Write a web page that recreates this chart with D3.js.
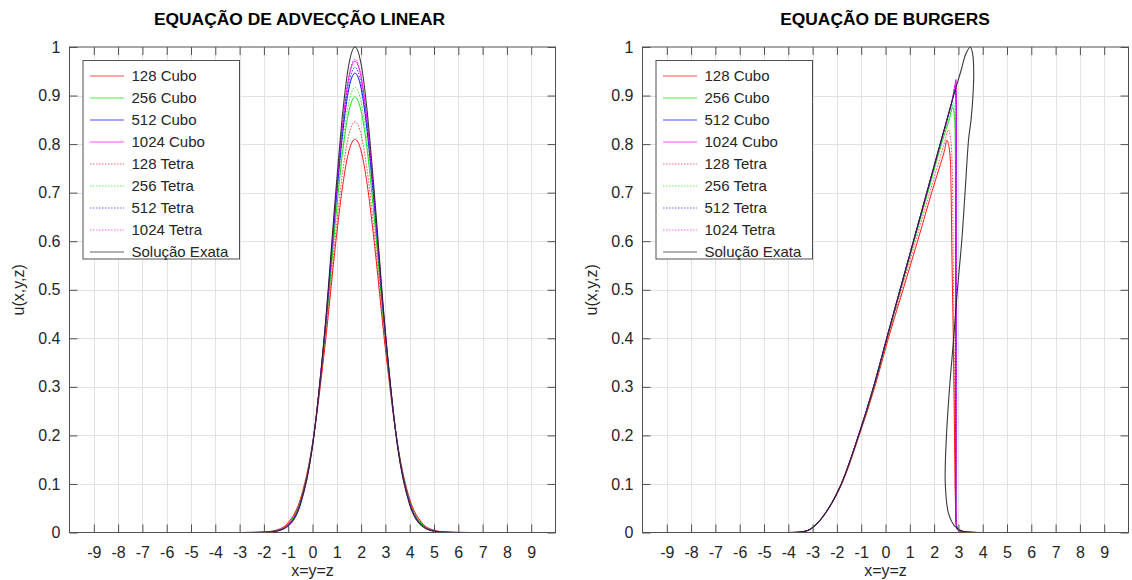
<!DOCTYPE html>
<html>
<head>
<meta charset="utf-8">
<script src="https://cdn.jsdelivr.net/npm/d3@7"></script>
<style>
body { margin: 0; background: #fff; }
svg { display: block; font-family: "Liberation Sans", Arial, sans-serif; }
</style>
</head>
<body>
<svg id="plotarea" width="1132" height="580"></svg>
<script>
// eixos
var xTickVals = [-9, -8, -7, -6, -5, -4, -3, -2, -1, 0, 1, 2, 3, 4, 5, 6, 7, 8, 9];
var xTickLabels = ["-9", "-8", "-7", "-6", "-5", "-4", "-3", "-2", "-1", "0", "1", "2", "3", "4", "5", "6", "7", "8", "9"];
var yTickVals = [0, 0.1, 0.2, 0.3, 0.4, 0.5, 0.6, 0.7, 0.8, 0.9, 1];
var yTickLabels = ["0", "0.1", "0.2", "0.3", "0.4", "0.5", "0.6", "0.7", "0.8", "0.9", "1"];
var legendLabels = ["128 Cubo", "256 Cubo", "512 Cubo", "1024 Cubo", "128 Tetra", "256 Tetra", "512 Tetra", "1024 Tetra", "Solução Exata"];

// advecção linear
var advX = [-10, -3, -2.5, -2, -1.5, -1, -0.5, 0, 0.5, 1, 1.25, 1.5, 1.75, 2, 2.25, 2.5, 3, 3.5, 4, 4.5, 5, 5.5, 6, 6.5, 10];
var adv128Cubo = [0, 0, 0.0001, 0.0009, 0.0047, 0.0203, 0.0685, 0.182, 0.378, 0.616, 0.717, 0.786, 0.81, 0.786, 0.717, 0.616, 0.378, 0.182, 0.0685, 0.0203, 0.0047, 0.0009, 0.0001, 0, 0];
var adv256Cubo = [0, 0, 0.0001, 0.0006, 0.0037, 0.0175, 0.0642, 0.182, 0.397, 0.669, 0.788, 0.868, 0.897, 0.868, 0.788, 0.669, 0.397, 0.182, 0.0642, 0.0175, 0.0037, 0.0006, 0.0001, 0, 0];
var adv512Cubo = [0, 0, 0.0001, 0.0005, 0.0031, 0.0158, 0.061, 0.18, 0.406, 0.698, 0.826, 0.915, 0.946, 0.915, 0.826, 0.698, 0.406, 0.18, 0.061, 0.0158, 0.0031, 0.0005, 0.0001, 0, 0];
var adv1024Cubo = [0, 0, 0.0001, 0.0004, 0.0028, 0.0149, 0.0592, 0.179, 0.41, 0.712, 0.846, 0.938, 0.971, 0.938, 0.846, 0.712, 0.41, 0.179, 0.0592, 0.0149, 0.0028, 0.0004, 0.0001, 0, 0];
var adv128Tetra = [0, 0, 0.0001, 0.0007, 0.0043, 0.0191, 0.067, 0.182, 0.387, 0.638, 0.746, 0.82, 0.846, 0.82, 0.746, 0.638, 0.387, 0.182, 0.067, 0.0191, 0.0043, 0.0007, 0.0001, 0, 0];
var adv256Tetra = [0, 0, 0.0001, 0.0005, 0.0034, 0.0168, 0.0631, 0.181, 0.402, 0.681, 0.803, 0.887, 0.917, 0.887, 0.803, 0.681, 0.402, 0.181, 0.0631, 0.0168, 0.0034, 0.0005, 0.0001, 0, 0];
var adv512Tetra = [0, 0, 0.0001, 0.0004, 0.003, 0.0153, 0.0603, 0.18, 0.408, 0.704, 0.835, 0.925, 0.958, 0.925, 0.835, 0.704, 0.408, 0.18, 0.0603, 0.0153, 0.003, 0.0004, 0.0001, 0, 0];
var adv1024Tetra = [0, 0, 0.0001, 0.0004, 0.0028, 0.0147, 0.0589, 0.179, 0.41, 0.714, 0.849, 0.942, 0.975, 0.942, 0.849, 0.714, 0.41, 0.179, 0.0589, 0.0147, 0.0028, 0.0004, 0.0001, 0, 0];
var advExata = [0, 0, 0, 0.0004, 0.0025, 0.0138, 0.057, 0.177, 0.413, 0.727, 0.868, 0.965, 1, 0.965, 0.868, 0.727, 0.413, 0.177, 0.057, 0.0138, 0.0025, 0.0004, 0, 0, 0];

// burgers: pares [x, u]
var bur128Cubo = [[-10, 0], [-4, 0], [-3.5, 0.001], [-3.16, 0.005], [-2.79, 0.02], [-2.33, 0.05], [-1.8, 0.1], [-1.08, 0.2], [-0.44, 0.3], [0.12, 0.4], [0.72, 0.5], [1.32, 0.6], [1.9, 0.7], [2.42, 0.785], [2.53, 0.808], [2.61, 0.795], [2.67, 0.765], [2.7, 0.7], [2.74, 0.55], [2.79, 0.4], [2.84, 0.2], [2.88, 0.06], [2.92, 0.015], [3.0, 0.005], [3.3, 0.001], [4, 0], [10, 0]];
var bur256Cubo = [[-10, 0], [-4, 0], [-3.5, 0.001], [-3.16, 0.005], [-2.79, 0.02], [-2.34, 0.05], [-1.82, 0.1], [-1.1, 0.2], [-0.47, 0.3], [0.07, 0.4], [0.62, 0.5], [1.18, 0.6], [1.74, 0.7], [2.3, 0.8], [2.65, 0.855], [2.76, 0.876], [2.83, 0.86], [2.87, 0.8], [2.88, 0.6], [2.88, 0.3], [2.89, 0.08], [2.9, 0.02], [2.96, 0.006], [3.2, 0.002], [3.8, 0], [10, 0]];
var bur512Cubo = [[-10, 0], [-4, 0], [-3.5, 0.001], [-3.16, 0.005], [-2.79, 0.02], [-2.34, 0.05], [-1.82, 0.1], [-1.11, 0.2], [-0.49, 0.3], [0.05, 0.4], [0.6, 0.5], [1.15, 0.6], [1.7, 0.7], [2.25, 0.8], [2.7, 0.88], [2.87, 0.911], [2.9, 0.89], [2.9, 0.7], [2.9, 0.4], [2.9, 0.1], [2.91, 0.02], [2.96, 0.006], [3.2, 0.002], [3.8, 0], [10, 0]];
var bur1024Cubo = [[-10, 0], [-4, 0], [-3.5, 0.001], [-3.16, 0.005], [-2.79, 0.02], [-2.34, 0.05], [-1.82, 0.1], [-1.11, 0.2], [-0.49, 0.3], [0.05, 0.4], [0.6, 0.5], [1.15, 0.6], [1.7, 0.7], [2.25, 0.8], [2.72, 0.885], [2.86, 0.922], [2.9, 0.933], [2.91, 0.91], [2.91, 0.7], [2.91, 0.4], [2.91, 0.1], [2.92, 0.02], [2.97, 0.006], [3.2, 0.002], [3.8, 0], [10, 0]];
var bur128Tetra = [[-10, 0], [-4, 0], [-3.5, 0.001], [-3.16, 0.005], [-2.79, 0.02], [-2.33, 0.05], [-1.81, 0.1], [-1.09, 0.2], [-0.46, 0.3], [0.08, 0.4], [0.66, 0.5], [1.24, 0.6], [1.82, 0.7], [2.38, 0.795], [2.59, 0.829], [2.68, 0.81], [2.74, 0.76], [2.78, 0.6], [2.82, 0.4], [2.86, 0.2], [2.89, 0.05], [2.93, 0.012], [3.0, 0.004], [3.3, 0.001], [4, 0], [10, 0]];
var bur256Tetra = [[-10, 0], [-4, 0], [-3.5, 0.001], [-3.16, 0.005], [-2.79, 0.02], [-2.34, 0.05], [-1.82, 0.1], [-1.1, 0.2], [-0.48, 0.3], [0.06, 0.4], [0.61, 0.5], [1.17, 0.6], [1.72, 0.7], [2.28, 0.8], [2.7, 0.87], [2.8, 0.885], [2.86, 0.86], [2.885, 0.7], [2.89, 0.4], [2.9, 0.1], [2.91, 0.02], [2.97, 0.006], [3.2, 0.002], [3.8, 0], [10, 0]];
var bur512Tetra = [[-10, 0], [-4, 0], [-3.5, 0.001], [-3.16, 0.005], [-2.79, 0.02], [-2.34, 0.05], [-1.82, 0.1], [-1.11, 0.2], [-0.49, 0.3], [0.05, 0.4], [0.6, 0.5], [1.15, 0.6], [1.7, 0.7], [2.25, 0.8], [2.72, 0.885], [2.88, 0.922], [2.905, 0.9], [2.905, 0.6], [2.905, 0.2], [2.915, 0.02], [2.97, 0.006], [3.2, 0.002], [3.8, 0], [10, 0]];
var bur1024Tetra = [[-10, 0], [-4, 0], [-3.5, 0.001], [-3.16, 0.005], [-2.79, 0.02], [-2.34, 0.05], [-1.82, 0.1], [-1.11, 0.2], [-0.49, 0.3], [0.05, 0.4], [0.6, 0.5], [1.15, 0.6], [1.7, 0.7], [2.25, 0.8], [2.73, 0.887], [2.88, 0.925], [2.905, 0.928], [2.915, 0.9], [2.915, 0.6], [2.915, 0.2], [2.92, 0.02], [2.97, 0.006], [3.2, 0.002], [3.8, 0], [10, 0]];
var burExata = [[-10, 0], [-4, 0], [-3.5, 0.001], [-3.16, 0.005], [-2.79, 0.02], [-2.34, 0.05], [-1.82, 0.1], [-1.11, 0.2], [-0.49, 0.3], [0.05, 0.4], [0.6, 0.5], [1.15, 0.6], [1.7, 0.7], [2.25, 0.8], [2.8, 0.9], [3.1, 0.95], [3.3, 0.985], [3.49, 1.0], [3.59, 0.985], [3.63, 0.95], [3.6, 0.9], [3.52, 0.85], [3.42, 0.81], [3.28, 0.705], [3.14, 0.602], [2.96, 0.5], [2.8, 0.397], [2.63, 0.294], [2.5, 0.191], [2.46, 0.101], [2.59, 0.04], [2.87, 0.012], [3.21, 0.002], [3.6, 0], [10, 0]];

var lineColors = ["#ff0000", "#00dd00", "#0000ff", "#ff00ff", "#ff0000", "#00dd00", "#0000ff", "#ff00ff", "#222222"];
var lineDash = [null, null, null, null, "1.5,1.5", "1.5,1.5", "1.5,1.5", "1.5,1.5", null];

function pairs(xs, ys) {
    return xs.map(function(v, i) { return [v, ys[i]]; });
}

var advSeries = [adv128Cubo, adv256Cubo, adv512Cubo, adv1024Cubo, adv128Tetra, adv256Tetra, adv512Tetra, adv1024Tetra, advExata]
    .map(function(s) { return pairs(advX, s); });
var burSeries = [bur128Cubo, bur256Cubo, bur512Cubo, bur1024Cubo, bur128Tetra, bur256Tetra, bur512Tetra, bur1024Tetra, burExata];

var svg = d3.select("#plotarea");
var axisColor = "#505050";
var textColor = "#262626";

function drawPanel(id, left, title, titleX, series, curve) {
    var width = 486;
    var x = d3.scaleLinear().domain([-10, 10]).range([left, left + width]);
    var y = d3.scaleLinear().domain([0, 1]).range([532.5, 47]);
    var g = svg.append("g");

    // grade
    g.append("g").selectAll("line").data(xTickVals).enter().append("line")
        .attr("x1", function(d) { return Math.round(x(d)) + 0.5; })
        .attr("x2", function(d) { return Math.round(x(d)) + 0.5; })
        .attr("y1", y(0)).attr("y2", y(1))
        .attr("stroke", "#e2e2e2");
    g.append("g").selectAll("line").data(yTickVals.slice(1, -1)).enter().append("line")
        .attr("x1", x(-10)).attr("x2", x(10))
        .attr("y1", function(d) { return Math.round(y(d)) + 0.5; })
        .attr("y2", function(d) { return Math.round(y(d)) + 0.5; })
        .attr("stroke", "#e2e2e2");

    // curvas
    g.append("clipPath").attr("id", "clip" + id)
        .append("rect").attr("x", x(-10)).attr("y", y(1) - 1).attr("width", width).attr("height", y(0) - y(1) + 1);
    var line = d3.line()
        .x(function(d) { return x(d[0]); })
        .y(function(d) { return y(d[1]); })
        .curve(curve);
    g.append("g").attr("clip-path", "url(#clip" + id + ")")
        .selectAll("path").data(series).enter().append("path")
        .attr("d", line)
        .attr("fill", "none")
        .attr("stroke", function(d, i) { return lineColors[i]; })
        .attr("stroke-width", function(d, i) { return i == 8 ? 1.1 : 1; })
        .attr("stroke-dasharray", function(d, i) { return lineDash[i]; })
        .attr("opacity", function(d, i) { return lineDash[i] ? 0.75 : 0.9; });

    // eixos
    var bottom = g.append("g").attr("transform", "translate(0," + y(0) + ")")
        .call(d3.axisBottom(x).tickValues(xTickVals).tickSizeInner(-8).tickSizeOuter(0).tickPadding(14)
            .tickFormat(function(d, i) { return xTickLabels[i]; }));
    var top = g.append("g").attr("transform", "translate(0," + y(1) + ")")
        .call(d3.axisTop(x).tickValues(xTickVals).tickSizeInner(-8).tickSizeOuter(0).tickFormat(""));
    var leftAx = g.append("g").attr("transform", "translate(" + x(-10) + ",0)")
        .call(d3.axisLeft(y).tickValues(yTickVals).tickSizeInner(-8).tickSizeOuter(0).tickPadding(9)
            .tickFormat(function(d, i) { return yTickLabels[i]; }));
    var rightAx = g.append("g").attr("transform", "translate(" + x(10) + ",0)")
        .call(d3.axisRight(y).tickValues(yTickVals).tickSizeInner(-8).tickSizeOuter(0).tickFormat(""));
    [bottom, top, leftAx, rightAx].forEach(function(a) {
        a.select(".domain").remove();
        a.selectAll(".tick line").attr("stroke", axisColor);
        a.selectAll("text").attr("fill", textColor).attr("font-size", 16)
            .attr("font-family", "'Liberation Sans', Arial, sans-serif");
    });
    g.append("rect")
        .attr("x", x(-10)).attr("y", y(1)).attr("width", width).attr("height", y(0) - y(1))
        .attr("fill", "none").attr("stroke", axisColor);

    // legenda
    var lg = g.append("g").attr("transform", "translate(" + (left + 13.5) + ",60.5)");
    lg.append("rect").attr("width", 156.5).attr("height", 198.5)
        .attr("fill", "#fff").attr("stroke", axisColor);
    var item = lg.selectAll(".item").data(legendLabels).enter().append("g")
        .attr("class", "item")
        .attr("transform", function(d, i) { return "translate(0," + (15.5 + 22 * i) + ")"; });
    item.append("line").attr("x1", 7).attr("x2", 41)
        .attr("stroke", function(d, i) { return lineColors[i]; })
        .attr("stroke-dasharray", function(d, i) { return lineDash[i]; })
        .attr("opacity", function(d, i) { return lineDash[i] ? 0.6 : 0.7; });
    item.append("text").attr("x", 48.5).attr("dy", "0.35em")
        .attr("font-size", 15).attr("fill", textColor)
        .text(function(d) { return d; });

    // títulos
    g.append("text").attr("x", titleX).attr("y", 25)
        .attr("text-anchor", "middle").attr("font-size", 17.4).attr("font-weight", "bold")
        .attr("fill", "#000").text(title);
    g.append("text").attr("x", left + width / 2).attr("y", 576)
        .attr("text-anchor", "middle").attr("font-size", 16).attr("fill", textColor)
        .text("x=y=z");
    g.append("text").attr("transform", "translate(" + (left - 46) + "," + ((y(0) + y(1)) / 2) + ") rotate(-90)")
        .attr("text-anchor", "middle").attr("font-size", 16).attr("fill", textColor)
        .text("u(x,y,z)");
}

drawPanel("a", 69.5, "EQUAÇÃO DE ADVECÇÃO LINEAR", 299.5, advSeries, d3.curveMonotoneX);
drawPanel("b", 642.5, "EQUAÇÃO DE BURGERS", 885, burSeries, d3.curveCatmullRom.alpha(0.5));
</script>
</body>
</html>
